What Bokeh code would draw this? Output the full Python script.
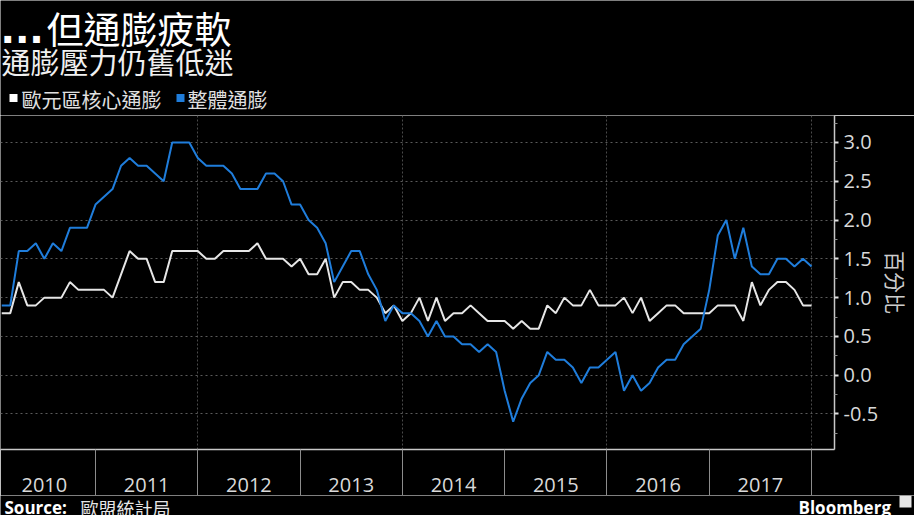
from bokeh.plotting import figure
from bokeh.layouts import column, row
from bokeh.models import FixedTicker, Range1d, NumeralTickFormatter
from bokeh.core.properties import value
from bokeh.embed import file_html
from bokeh.resources import INLINE

# ---- data (monthly, Jan 2010 - Dec 2017) ----
years = [2010, 2011, 2012, 2013, 2014, 2015, 2016, 2017]
headline = [
    0.9, 0.9, 1.6, 1.6, 1.7, 1.5, 1.7, 1.6, 1.9, 1.9, 1.9, 2.2,
    2.3, 2.4, 2.7, 2.8, 2.7, 2.7, 2.6, 2.5, 3.0, 3.0, 3.0, 2.8,
    2.7, 2.7, 2.7, 2.6, 2.4, 2.4, 2.4, 2.6, 2.6, 2.5, 2.2, 2.2,
    2.0, 1.9, 1.7, 1.2, 1.4, 1.6, 1.6, 1.3, 1.1, 0.7, 0.9, 0.8,
    0.8, 0.7, 0.5, 0.7, 0.5, 0.5, 0.4, 0.4, 0.3, 0.4, 0.3, -0.2,
    -0.6, -0.3, -0.1, 0.0, 0.3, 0.2, 0.2, 0.1, -0.1, 0.1, 0.1, 0.2,
    0.3, -0.2, 0.0, -0.2, -0.1, 0.1, 0.2, 0.2, 0.4, 0.5, 0.6, 1.1,
    1.8, 2.0, 1.5, 1.9, 1.4, 1.3, 1.3, 1.5, 1.5, 1.4, 1.5, 1.4,
]
core = [
    0.8, 0.8, 1.2, 0.9, 0.9, 1.0, 1.0, 1.0, 1.2, 1.1, 1.1, 1.1,
    1.1, 1.0, 1.3, 1.6, 1.5, 1.5, 1.2, 1.2, 1.6, 1.6, 1.6, 1.6,
    1.5, 1.5, 1.6, 1.6, 1.6, 1.6, 1.7, 1.5, 1.5, 1.5, 1.4, 1.5,
    1.3, 1.3, 1.5, 1.0, 1.2, 1.2, 1.1, 1.1, 1.0, 0.8, 0.9, 0.7,
    0.8, 1.0, 0.7, 1.0, 0.7, 0.8, 0.8, 0.9, 0.8, 0.7, 0.7, 0.7,
    0.6, 0.7, 0.6, 0.6, 0.9, 0.8, 1.0, 0.9, 0.9, 1.1, 0.9, 0.9,
    0.9, 1.0, 0.8, 1.0, 0.7, 0.8, 0.9, 0.9, 0.8, 0.8, 0.8, 0.8,
    0.9, 0.9, 0.9, 0.7, 1.2, 0.9, 1.1, 1.2, 1.2, 1.1, 0.9, 0.9,
]
y_ticks = [-0.5, 0.0, 0.5, 1.0, 1.5, 2.0, 2.5, 3.0]
y_minor = [-0.75, -0.25, 0.25, 0.75, 1.25, 1.75, 2.25, 2.75, 3.25]
grid_years = [2012, 2014, 2016, 2018]

title_dots = "..."
title = "但通膨疲軟"
subtitle = "通膨壓力仍舊低迷"
legend_core = "歐元區核心通膨"
legend_headline = "整體通膨"
y_label = "百分比"
source_lead = "Source:"
source_name = "歐盟統計局"
brand = "Bloomberg"

# month-end positions as fractional years
x = [yr + (m + 1) / 12.0 for yr in years for m in range(12)]

CJK = "Noto Sans CJK TC"
LAT = "Open Sans"
BLUE = "#1f7ddb"
WHITE = "#e6e6e6"
BG = "black"
W = 914


def text_fig(h):
    f = figure(width=W, height=h, x_range=Range1d(0, W), y_range=Range1d(h, 0),
               output_backend="svg", toolbar_location=None,
               background_fill_color=BG, border_fill_color=BG,
               outline_line_color=None, x_axis_type=None, y_axis_type=None,
               min_border=0)
    f.grid.visible = False
    return f


# ---------------- header ----------------
top = text_fig(115)
top.text(x=[0], y=[29], text=[title_dots], text_font=value("DejaVu Sans"), text_font_size="38px",
         text_font_style="bold", text_color="white", text_baseline="middle")
top.text(x=[46], y=[27], text=[title], text_font=value(CJK), text_font_size="37px",
         text_color="white", text_baseline="middle")
top.text(x=[1], y=[60], text=[subtitle], text_font=value(CJK), text_font_size="29px",
         text_color="#f0f0f0", text_baseline="middle")
top.scatter(x=[13], y=[97.5], marker="square", size=8, fill_color="white", line_color=None)
top.text(x=[21], y=[99], text=[legend_core], text_font=value(CJK), text_font_size="20px",
         text_color="#e0e0e0", text_baseline="middle")
top.scatter(x=[180], y=[97.5], marker="square", size=8, fill_color=BLUE, line_color=None)
top.text(x=[187], y=[99], text=[legend_headline], text_font=value(CJK), text_font_size="20px",
         text_color="#e0e0e0", text_baseline="middle")

# ---------------- main chart ----------------
p = figure(width=W, height=380,
           x_range=Range1d(2010.0713, 2018.2245),
           y_range=Range1d(-0.958, 3.348),
           output_backend="svg", toolbar_location=None,
           background_fill_color=BG, border_fill_color=BG,
           outline_line_color=None,
           min_border_left=0, min_border_right=80,
           min_border_top=0, min_border_bottom=46,
           x_axis_location="below", y_axis_location="right")

xa = p.xaxis[0]
xa.ticker = FixedTicker(ticks=[yr + 0.5 for yr in years],
                        minor_ticks=[yr + 1 for yr in years])
xa.major_label_overrides = {yr + 0.5: str(yr) for yr in years}
xa.major_tick_out = 0
xa.major_tick_in = 0
xa.minor_tick_out = 48
xa.minor_tick_in = 0
xa.minor_tick_line_color = "#8c8c8c"
xa.minor_tick_line_width = 1
xa.axis_line_color = "#c8c8c8"
xa.axis_line_width = 1.5
xa.major_label_text_font = LAT
xa.major_label_text_font_size = "20px"
xa.major_label_text_color = "#d9d9d9"
xa.major_label_standoff = -20

ya = p.yaxis[0]
ya.ticker = FixedTicker(ticks=y_ticks, minor_ticks=y_minor)
ya.formatter = NumeralTickFormatter(format="0.0")
ya.major_tick_out = 4
ya.major_tick_in = 0
ya.major_tick_line_color = "#e0e0e0"
ya.major_tick_line_width = 2
ya.minor_tick_out = 3
ya.minor_tick_in = 0
ya.minor_tick_line_color = "#8c8c8c"
ya.axis_line_color = "#c8c8c8"
ya.axis_line_width = 1.5
ya.major_label_text_font = LAT
ya.major_label_text_font_size = "20px"
ya.major_label_text_color = "#d9d9d9"
ya.major_label_standoff = 5
ya.axis_label = y_label
ya.axis_label_text_font = CJK
ya.axis_label_text_font_size = "21px"
ya.axis_label_text_font_style = "normal"
ya.axis_label_text_color = "#cccccc"
ya.axis_label_standoff = 0

p.ygrid.ticker = FixedTicker(ticks=y_ticks)
p.ygrid.grid_line_color = "#5a5a5a"
p.ygrid.grid_line_dash = "2 3"
p.ygrid.grid_line_width = 1
p.xgrid.ticker = FixedTicker(ticks=grid_years)
p.xgrid.grid_line_color = "#4a4a4a"
p.xgrid.grid_line_dash = "2 2"
p.xgrid.grid_line_width = 1

p.line(x, core, line_color=WHITE, line_width=2)
p.line(x, headline, line_color=BLUE, line_width=2)

# ---------------- footer ----------------
bot = text_fig(20)
bot.text(x=[4], y=[12], text=[source_lead], text_font=value(LAT), text_font_size="17px",
         text_font_style="bold", text_color="white", text_baseline="alphabetic")
bot.text(x=[80], y=[12], text=[source_name], text_font=value(CJK), text_font_size="18px",
         text_color="#e6e6e6", text_baseline="alphabetic")
bot.text(x=[798], y=[12], text=[brand], text_font=value(LAT), text_font_size="17px",
         text_font_style="bold", text_color="white", text_baseline="alphabetic")
bot.rect(x=[905], y=[6], width=12, height=12, fill_color="#e6e6e6", line_color=None)

layout = column(row(top), p, row(bot), spacing=0)
open("out.html", "w").write(file_html(layout, INLINE))
